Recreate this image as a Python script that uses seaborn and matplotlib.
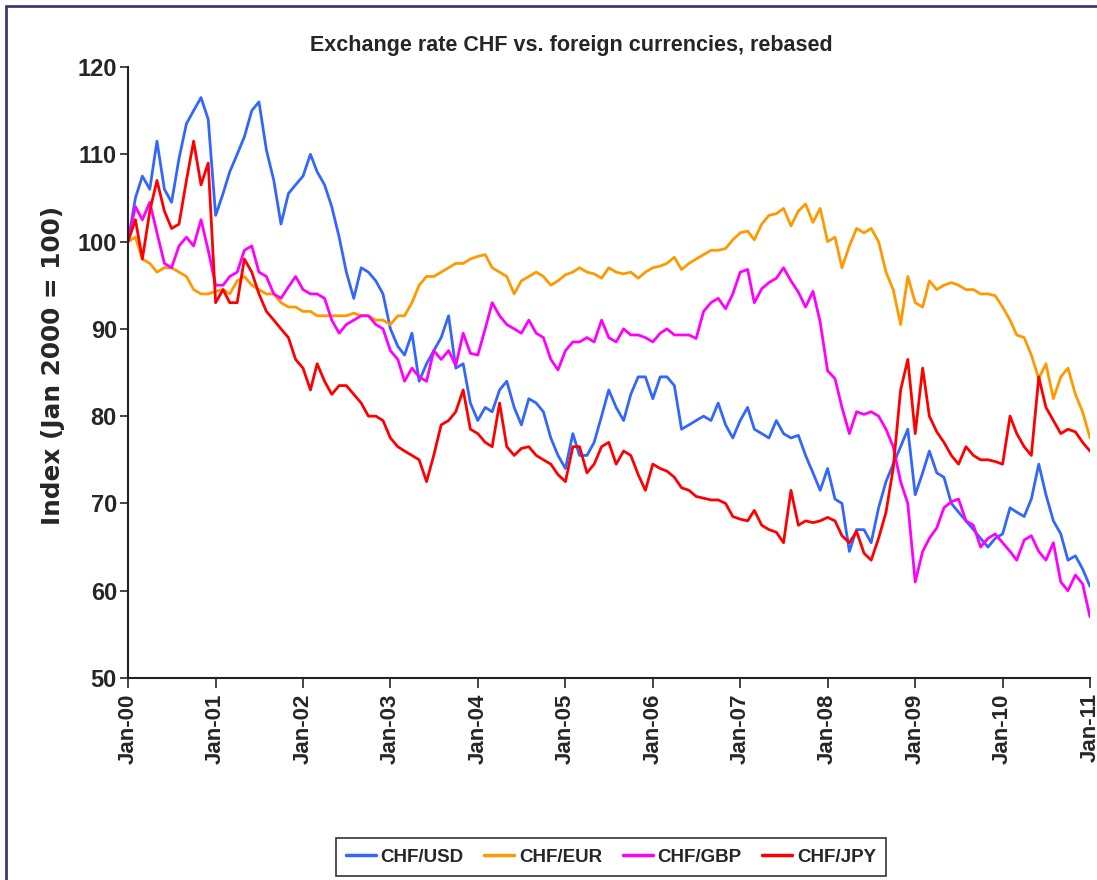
# CHF exchange rates vs. USD/EUR/GBP/JPY, rebased to Jan 2000 = 100
import pandas as pd
import matplotlib
matplotlib.use("Agg")
import matplotlib.pyplot as plt
import matplotlib.dates as mdates
from matplotlib.lines import Line2D
import seaborn as sns

sns.set_style("white")
plt.rcParams["font.family"] = ["Liberation Sans", "DejaVu Sans"]

# monthly points, Jan-00 .. Jan-11
months = pd.date_range("2000-01-01", "2011-01-01", freq="MS")

chf_usd = [
    100, 105, 107.5, 106, 111.5, 106, 104.5, 109.5, 113.5, 115, 116.5, 114,
    103, 105.5, 108, 110, 112, 115, 116, 110.5, 107, 102, 105.5, 106.5,
    107.5, 110, 108, 106.5, 104, 100.5, 96.5, 93.5, 97, 96.5, 95.5, 94,
    90, 88, 87, 89.5, 84, 86, 87.5, 89, 91.5, 85.5, 86, 81.5,
    79.5, 81, 80.5, 83, 84, 81, 79, 82, 81.5, 80.5, 77.5, 75.5,
    74, 78, 75.5, 75.5, 77, 80, 83, 81, 79.5, 82.5, 84.5, 84.5,
    82, 84.5, 84.5, 83.5, 78.5, 79, 79.5, 80, 79.5, 81.5, 79, 77.5,
    79.5, 81, 78.5, 78, 77.5, 79.5, 78, 77.5, 77.8, 75.5, 73.5, 71.5,
    74, 70.5, 70, 64.5, 67, 67, 65.5, 69.5, 72.5, 74.5, 76.5, 78.5,
    71, 73.5, 76, 73.5, 73, 70, 69, 68, 67, 66, 65, 66,
    66.5, 69.5, 69, 68.5, 70.5, 74.5, 71, 68, 66.5, 63.5, 64, 62.5,
    60.5,
]

chf_eur = [
    100, 100.5, 98, 97.5, 96.5, 97, 97, 96.5, 96, 94.5, 94, 94,
    94.3, 94.5, 94, 95.5, 96, 95, 94.5, 94, 94, 93, 92.5, 92.5,
    92, 92, 91.5, 91.5, 91.5, 91.5, 91.5, 91.8, 91.5, 91.5, 91, 91,
    90.5, 91.5, 91.5, 93, 95, 96, 96, 96.5, 97, 97.5, 97.5, 98,
    98.3, 98.5, 97, 96.5, 96, 94, 95.5, 96, 96.5, 96, 95, 95.5,
    96.2, 96.5, 97, 96.5, 96.3, 95.8, 97, 96.5, 96.3, 96.5, 95.8, 96.5,
    97, 97.2, 97.5, 98.2, 96.8, 97.5, 98, 98.5, 99, 99, 99.2, 100.2,
    101, 101.2, 100.2, 102, 103, 103.2, 103.8, 101.8, 103.5, 104.3, 102.2, 103.8,
    100, 100.5, 97, 99.5, 101.5, 101, 101.5, 100, 96.5, 94.5, 90.5, 96,
    93, 92.5, 95.5, 94.5, 95, 95.3, 95, 94.5, 94.5, 94, 94, 93.8,
    92.5, 91, 89.3, 89, 87, 84.3, 86, 82, 84.5, 85.5, 82.5, 80.5,
    77.5,
]

chf_gbp = [
    100, 104, 102.5, 104.5, 101, 97.5, 97, 99.5, 100.5, 99.5, 102.5, 99,
    95, 95, 96, 96.5, 99, 99.5, 96.5, 96, 94, 93.5, 94.8, 96,
    94.5, 94, 94, 93.5, 91, 89.5, 90.5, 91, 91.5, 91.5, 90.5, 90,
    87.5, 86.5, 84, 85.5, 84.5, 84, 87.5, 86.5, 87.5, 85.8, 89.5, 87.2,
    87, 90, 93, 91.5, 90.5, 90, 89.5, 91, 89.5, 89, 86.5, 85.3,
    87.5, 88.5, 88.5, 89, 88.5, 91, 89, 88.5, 90, 89.3, 89.3, 89,
    88.5, 89.5, 90, 89.3, 89.3, 89.3, 88.9, 92, 93, 93.5, 92.3, 94,
    96.5, 96.8, 93, 94.6, 95.3, 95.8, 97, 95.5, 94.2, 92.5, 94.3, 90.8,
    85.2, 84.3, 81, 78, 80.5, 80.2, 80.5, 80, 78.5, 76.5, 72.5, 70,
    61, 64.5, 66, 67.2, 69.5, 70.2, 70.5, 68, 67.5, 65, 66, 66.5,
    65.5, 64.5, 63.5, 65.8, 66.3, 64.5, 63.5, 65.5, 61, 60, 61.8, 60.8,
    57,
]

chf_jpy = [
    100, 102.5, 98, 103.5, 107, 103.5, 101.5, 102, 107, 111.5, 106.5, 109,
    93, 94.5, 93, 93, 98, 96.5, 94, 92, 91, 90, 89, 86.5,
    85.5, 83, 86, 84, 82.5, 83.5, 83.5, 82.5, 81.5, 80, 80, 79.5,
    77.5, 76.5, 76, 75.5, 75, 72.5, 75.5, 79, 79.5, 80.5, 83, 78.5,
    78, 77, 76.5, 81.5, 76.5, 75.5, 76.3, 76.5, 75.5, 75, 74.5, 73.3,
    72.5, 76.5, 76.5, 73.5, 74.5, 76.5, 77, 74.5, 76, 75.5, 73.3, 71.5,
    74.5, 74, 73.7, 73, 71.8, 71.5, 70.8, 70.6, 70.4, 70.4, 70, 68.5,
    68.2, 68, 69.2, 67.5, 67, 66.7, 65.5, 71.5, 67.5, 68, 67.8, 68,
    68.4, 68, 66.3, 65.5, 66.8, 64.3, 63.5, 66, 69, 74, 83, 86.5,
    78, 85.5, 80, 78.2, 77, 75.5, 74.5, 76.5, 75.5, 75, 75, 74.8,
    74.5, 80, 78, 76.5, 75.5, 84.5, 81, 79.5, 78, 78.5, 78.2, 77,
    76,
]

pairs = ["CHF/USD", "CHF/EUR", "CHF/GBP", "CHF/JPY"]
colors = {"CHF/USD": "#3366FF", "CHF/EUR": "#FF9900",
          "CHF/GBP": "#FF00FF", "CHF/JPY": "#FF0000"}

df = pd.DataFrame({"date": months, "CHF/USD": chf_usd, "CHF/EUR": chf_eur,
                   "CHF/GBP": chf_gbp, "CHF/JPY": chf_jpy})
df = df.melt(id_vars="date", var_name="pair", value_name="index")

fig = plt.figure(figsize=(10.97, 8.8), dpi=100)
ax = fig.add_axes([128 / 1097, 1 - 678 / 880, 962 / 1097, 611 / 880])

sns.lineplot(data=df, x="date", y="index", hue="pair", hue_order=pairs,
             palette=colors, linewidth=2.0, ax=ax)

ax.set_xlim(pd.Timestamp("2000-01-01"), pd.Timestamp("2011-01-01"))
ax.set_ylim(50, 120)
ax.set_yticks(range(50, 121, 10))
ax.xaxis.set_major_locator(mdates.YearLocator())
ax.xaxis.set_major_formatter(mdates.DateFormatter("%b-%y"))

ax.tick_params(axis="y", direction="out", length=6, width=1.2, labelsize=17, pad=2, left=True)
ax.tick_params(axis="x", direction="out", length=7, width=1.2, labelsize=16, pad=4, bottom=True)
for lbl in ax.get_yticklabels():
    lbl.set_fontweight("bold")
for lbl in ax.get_xticklabels():
    lbl.set_fontweight("bold")
    lbl.set_rotation(90)

sns.despine(ax=ax)
for s in ["left", "bottom"]:
    ax.spines[s].set_color("#222222")
    ax.spines[s].set_linewidth(1.5)

ax.set_xlabel("")
ax.set_ylabel("Index (Jan 2000 = 100)", fontsize=17.8, fontweight="bold",
              family=["DejaVu Sans"])
ax.yaxis.set_label_coords(-0.066, 0.511)

fig.text(571 / 1097, 1 - 46 / 880, "Exchange rate CHF vs. foreign currencies, rebased",
         ha="center", va="center", fontsize=15.5, fontweight="bold")

sns.move_legend(ax, "center", bbox_to_anchor=(0.502, -0.293), ncol=4,
                title=None, frameon=True, fancybox=False,
                handlelength=1.6, columnspacing=1.1, handletextpad=0.25,
                borderpad=0.55, prop={"weight": "bold", "size": 13.5})
leg = ax.get_legend()
leg.get_frame().set_edgecolor("black")
leg.get_frame().set_linewidth(1.2)
for h in leg.get_lines():
    h.set_linewidth(2.5)

# outer chart frame (top and left visible)
fig.add_artist(Line2D([6 / 1097, 1], [1 - 6 / 880, 1 - 6 / 880],
                      transform=fig.transFigure, color="#3c3c6e", lw=2))
fig.add_artist(Line2D([6 / 1097, 6 / 1097], [0, 1 - 6 / 880],
                      transform=fig.transFigure, color="#3c3c6e", lw=2))

fig.savefig("out.png", dpi=100)
